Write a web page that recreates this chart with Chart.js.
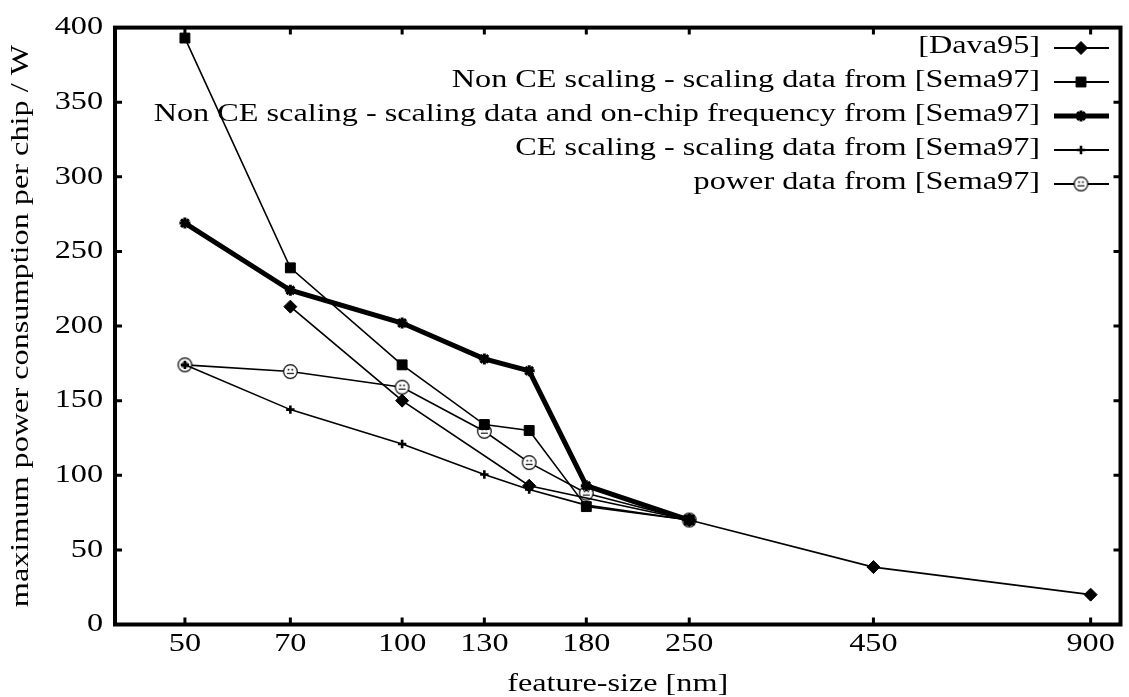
<!DOCTYPE html>
<html>
<head>
<meta charset="utf-8">
<script src="https://cdn.jsdelivr.net/npm/chart.js@4/dist/chart.umd.min.js"></script>
<style>
html,body{margin:0;padding:0;background:#fff;}
#wrap{width:1129px;height:697px;position:relative;}
</style>
</head>
<body>
<div id="wrap"><canvas id="c"></canvas></div>
<script>
// ---- data ----
const featureSizes = [50, 70, 100, 130, 150, 180, 250, 450, 900];
const dava95      = [null, 213, 150, null, 93, null, 70, 38.5, 20];
const nonCE       = [393, 239, 174, 134, 130, 79, 70, null, null];
const nonCEFreq   = [269, 224, 202, 178, 170, 93, 70, null, null];
const ceScaling   = [174, 144, 121, 100.5, 90.5, 80, 70, null, null];
const powerData   = [174, 169.5, 159, 129.5, 108.5, 88, 70, null, null];
const xTickValues = [50, 70, 100, 130, 180, 250, 450, 900];
const yTickValues = [0, 50, 100, 150, 200, 250, 300, 350, 400];
const seriesLabels = [
  '[Dava95]',
  'Non CE scaling - scaling data from [Sema97]',
  'Non CE scaling - scaling data and on-chip frequency from [Sema97]',
  'CE scaling - scaling data from [Sema97]',
  'power data from [Sema97]'
];
const xTitle = 'feature-size [nm]';
const yTitle = 'maximum power consumption per chip / W';

// ---- styling ----
const FONT = '"Liberation Serif", "Times New Roman", serif';
const FSIZE = 26;
const SX = 1.24; // wide glyph aspect of the original

function faceMarker() {
  const c = document.createElement('canvas');
  c.width = 17; c.height = 17;
  const g = c.getContext('2d');
  g.fillStyle = '#fff';
  g.beginPath(); g.arc(8.5, 8.5, 6.8, 0, 2 * Math.PI); g.fill();
  g.strokeStyle = '#000'; g.lineWidth = 1.2; g.stroke();
  g.fillStyle = '#000';
  g.fillRect(5.8, 5.8, 1.6, 1.6); g.fillRect(9.6, 5.8, 1.6, 1.6);
  g.fillRect(5, 9.8, 7, 1.1);
  return c;
}
const face = faceMarker();

const pts = arr => featureSizes.map((x, i) => ({x: x, y: arr[i]})).filter(p => p.y !== null);

const styles = [
  {borderWidth: 1.7, pointStyle: 'rectRot', pointRadius: 6.5, pointBorderWidth: 1},
  {borderWidth: 1.6, pointStyle: 'rect', pointRadius: 7, pointBorderWidth: 1},
  {borderWidth: 5, pointStyle: 'star', pointRadius: 5.5, pointBorderWidth: 3},
  {borderWidth: 1.6, pointStyle: 'cross', pointRadius: 4.2, pointBorderWidth: 2.6},
  {borderWidth: 1.6, pointStyle: face, pointRadius: 7, pointBorderWidth: 1}
];
const seriesData = [dava95, nonCE, nonCEFreq, ceScaling, powerData];

const datasets = seriesData.map((arr, i) => ({
  label: seriesLabels[i],
  data: pts(arr),
  borderColor: '#000',
  backgroundColor: '#000',
  pointBackgroundColor: '#000',
  pointBorderColor: '#000',
  borderWidth: styles[i].borderWidth,
  pointStyle: styles[i].pointStyle,
  pointRadius: styles[i].pointRadius,
  pointBorderWidth: styles[i].pointBorderWidth,
  tension: 0,
  fill: false,
  clip: false
}));

// stretch glyphs horizontally in their own frame
const stretchText = {
  id: 'stretchText',
  beforeInit(chart) {
    const ctx = chart.ctx;
    const orig = ctx.fillText;
    ctx.fillText = function(text, x, y) {
      this.save();
      this.translate(x, y);
      this.scale(SX, 1);
      orig.call(this, text, 0, 0);
      this.restore();
    };
  }
};

// frame with inward ticks on all four sides
const framePlugin = {
  id: 'frame',
  afterDatasetsDraw(chart) {
    const {ctx, chartArea: a, scales} = chart;
    ctx.save();
    ctx.strokeStyle = '#000';
    ctx.lineWidth = 3;
    const tl = 7;
    xTickValues.forEach(v => {
      const px = scales.x.getPixelForValue(v);
      ctx.beginPath();
      ctx.moveTo(px, a.bottom); ctx.lineTo(px, a.bottom - tl);
      ctx.moveTo(px, a.top); ctx.lineTo(px, a.top + tl);
      ctx.stroke();
    });
    yTickValues.forEach(v => {
      const py = scales.y.getPixelForValue(v);
      ctx.beginPath();
      ctx.moveTo(a.left, py); ctx.lineTo(a.left + tl, py);
      ctx.moveTo(a.right, py); ctx.lineTo(a.right - tl, py);
      ctx.stroke();
    });
    ctx.lineWidth = 4;
    ctx.strokeRect(a.left, a.top, a.right - a.left, a.bottom - a.top);
    ctx.restore();
  }
};

// legend: right-aligned text, sample line with marker on its right
const legendPlugin = {
  id: 'rightLegend',
  afterDraw(chart) {
    const ctx = chart.ctx;
    const textRight = 1040, x0 = 1054, x1 = 1109, xm = 1081;
    ctx.save();
    chart.data.datasets.forEach((ds, i) => {
      const y = 48 + i * 34;
      ctx.fillStyle = '#000';
      ctx.font = FSIZE + 'px ' + FONT;
      ctx.textAlign = 'right';
      ctx.textBaseline = 'middle';
      ctx.fillText(ds.label, textRight, y - 2);
      ctx.strokeStyle = '#000';
      ctx.lineWidth = ds.borderWidth < 2 ? 2 : ds.borderWidth;
      ctx.beginPath(); ctx.moveTo(x0, y); ctx.lineTo(x1, y); ctx.stroke();
      ctx.lineWidth = ds.pointBorderWidth;
      Chart.helpers.drawPoint(ctx, {
        pointStyle: ds.pointStyle,
        radius: ds.pointRadius,
        borderWidth: ds.pointBorderWidth,
        rotation: 0
      }, xm, y);
    });
    ctx.restore();
  }
};

new Chart(document.getElementById('c'), {
  type: 'line',
  data: {datasets: datasets},
  plugins: [stretchText, framePlugin, legendPlugin],
  options: {
    responsive: true,
    maintainAspectRatio: false,
    animation: false,
    layout: {padding: {top: 26, right: 2, left: 0, bottom: 0}},
    plugins: {legend: {display: false}, tooltip: {enabled: false}},
    scales: {
      x: {
        type: 'logarithmic',
        min: 40,
        max: 990,
        position: 'bottom',
        grid: {display: false, drawTicks: false, tickLength: 0},
        border: {display: false},
        afterBuildTicks: s => { s.ticks = xTickValues.map(v => ({value: v})); },
        afterFit: s => { s.height = 72.5; },
        ticks: {
          autoSkip: false, maxRotation: 0, minRotation: 0, padding: 4,
          color: '#000', font: {family: FONT, size: FSIZE},
          callback: v => String(v)
        },
        title: {
          display: true, text: xTitle, color: '#000',
          font: {family: FONT, size: FSIZE, lineHeight: 1},
          padding: {top: 0, bottom: 0}
        }
      },
      y: {
        type: 'linear',
        min: 0,
        max: 400,
        grid: {display: false, drawTicks: false, tickLength: 0},
        border: {display: false},
        afterBuildTicks: s => { s.ticks = yTickValues.map(v => ({value: v})); },
        afterFit: s => { s.width = 115; },
        ticks: {
          padding: 12, color: '#000', font: {family: FONT, size: FSIZE},
          callback: v => String(v)
        },
        title: {
          display: true, text: yTitle, color: '#000',
          font: {family: FONT, size: FSIZE, lineHeight: 1.2},
          padding: {top: 6, bottom: 0}
        }
      }
    }
  }
});
</script>
</body>
</html>
